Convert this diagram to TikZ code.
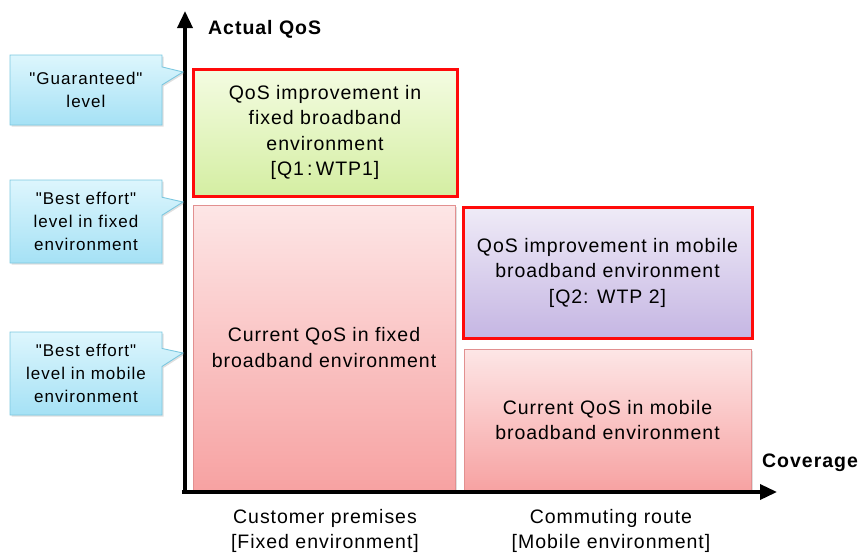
\documentclass[tikz,border=0pt]{standalone}
\usepackage{fontspec}
\setmainfont{Liberation Sans}
% plain family (straight quotes, slight tracking)
\newfontfamily\trackedsans{Liberation Sans}[LetterSpace=5]
\newfontfamily\notesans{Liberation Sans}[LetterSpace=6]
\usetikzlibrary{arrows.meta,shapes.callouts,shadows}

\definecolor{boxred}{HTML}{FF0A0A}
\definecolor{pinkline}{HTML}{E29090}
\definecolor{pinktop}{HTML}{FDE6E6}
\definecolor{pinkbot}{HTML}{F7A2A2}
\definecolor{greentop}{HTML}{F4FCE2}
\definecolor{greenbot}{HTML}{D4EEA2}
\definecolor{purptop}{HTML}{EFEBF7}
\definecolor{purpbot}{HTML}{C5B6E3}
\definecolor{cyantop}{HTML}{DDF6FD}
\definecolor{cyanbot}{HTML}{A5E1F5}
\definecolor{cyanline}{HTML}{7CC8E0}

\tikzset{
  body/.style={font=\trackedsans\fontsize{19.5}{25.5}\selectfont, align=center, inner sep=0pt,
    drop shadow={opacity=0.25, shadow xshift=1.5pt, shadow yshift=-1.5pt}},
  pinkbox/.style={body, draw=pinkline, line width=0.9pt, top color=pinktop, bottom color=pinkbot},
  greenbox/.style={body, draw=boxred, line width=3pt, top color=greentop, bottom color=greenbot},
  purpbox/.style={body, draw=boxred, line width=3pt, top color=purptop, bottom color=purpbot},
  levelnote/.style={rectangle callout, draw=cyanline, line width=0.9pt,
    top color=cyantop, bottom color=cyanbot, minimum width=152, inner sep=0pt,
    callout pointer width=18pt, align=center, font=\notesans\fontsize{17}{23}\selectfont,
    drop shadow={opacity=0.25, shadow xshift=1.5pt, shadow yshift=-1.5pt}},
  axislabel/.style={font=\trackedsans\bfseries\fontsize{19.5}{22}\selectfont, inner sep=0pt},
  ticklabel/.style={font=\trackedsans\fontsize{19.5}{25}\selectfont, align=center, inner sep=0pt},
  axisline/.style={line width=3.5pt, -{Triangle[width=15pt,length=17pt]}}
}

\begin{document}
\begin{tikzpicture}[x=1pt,y=-1pt]
\useasboundingbox (0,0) rectangle (858,554);

% quadrant boxes
\node[greenbox, minimum width=264, minimum height=127] (q1) at (325,132.5)
  {QoS improvement in\\fixed broadband\\environment\\{}[Q1\,:\,WTP1]};
\node[pinkbox, minimum width=262, minimum height=285] (curfix) at (324,347.5)
  {Current QoS in fixed\\broadband environment};
\node[purpbox, minimum width=289, minimum height=131] (q2) at (607.5,272.5)
  {QoS improvement in mobile\\broadband environment\\{}[Q2: WTP 2]};
\node[pinkbox, minimum width=287, minimum height=142] (curmob) at (607.5,420)
  {Current QoS in mobile\\broadband environment};

% axes
\coordinate (origin) at (185,492);
\coordinate (ytip) at (185,11);
\coordinate (xtip) at (777,492);
\draw[axisline] ([yshift=-1.75pt]origin) -- (ytip);
\draw[axisline] ([xshift=-3pt]origin) -- (xtip);

\node[axislabel, anchor=west] (ylab) at (208,29) {Actual QoS};
\node[axislabel, anchor=west] (xlab) at (762,463) {Coverage};

\node[ticklabel] (fixenv) at (325,531) {Customer premises\\{}[Fixed environment]};
\node[ticklabel] (mobenv) at (611,531) {Commuting route\\{}[Mobile environment]};

% level callouts pointing at the QoS axis
\coordinate (lvlg) at (183,72);
\coordinate (lvlf) at (183,202);
\coordinate (lvlm) at (183,353);
\node[levelnote, minimum height=70, callout absolute pointer={(lvlg)}] (guar) at (86,90)
  {\symbol{34}Guaranteed\symbol{34}\\level};
\node[levelnote, minimum height=83, callout absolute pointer={(lvlf)}] (befix) at (86,221.5)
  {\symbol{34}Best effort\symbol{34}\\level in fixed\\environment};
\node[levelnote, minimum height=83, callout absolute pointer={(lvlm)}] (bemob) at (86,373.5)
  {\symbol{34}Best effort\symbol{34}\\level in mobile\\environment};
\end{tikzpicture}
\end{document}
